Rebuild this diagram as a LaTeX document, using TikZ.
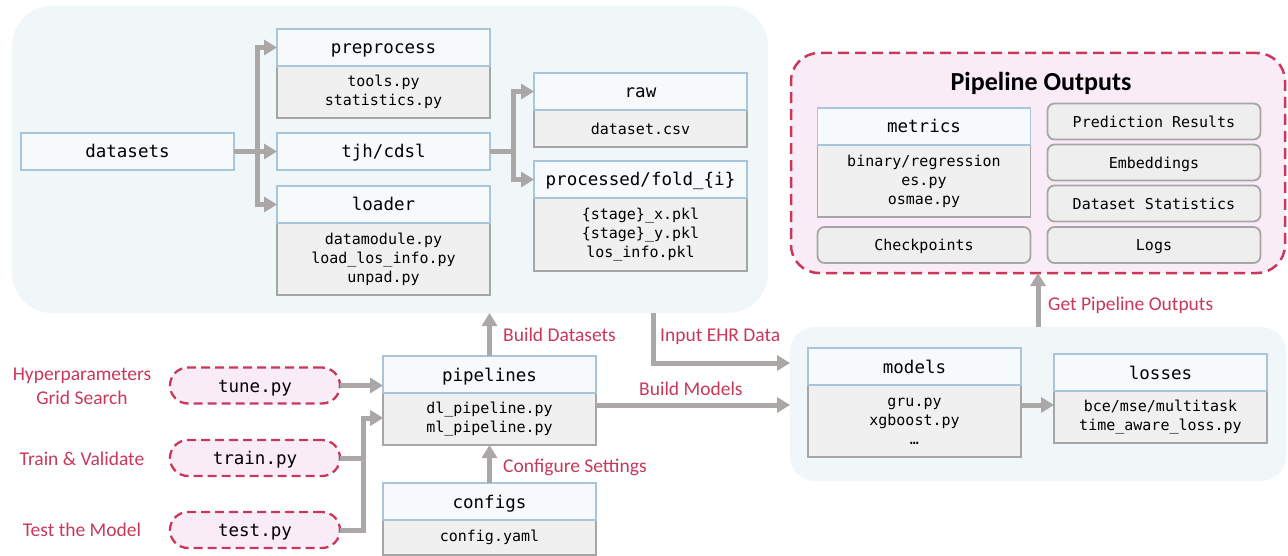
\documentclass[tikz,border=0pt]{standalone}
\usepackage{fontspec}
\setmainfont{Carlito}
\setmonofont{DejaVu Sans Mono}
\usetikzlibrary{arrows.meta}

\definecolor{panelbg}{HTML}{F1F6F9}
\definecolor{headfill}{HTML}{F6FAFD}
\definecolor{headline}{HTML}{AAC5DA}
\definecolor{bodyfill}{HTML}{F0F0F0}
\definecolor{bodyline}{HTML}{A6A6A6}
\definecolor{arrowgray}{HTML}{ABA7A7}
\definecolor{crimson}{HTML}{C9385B}
\definecolor{pinkfill}{HTML}{FAECF7}
\definecolor{outfill}{HTML}{EEEEEE}

\tikzset{
  panel/.style={fill=panelbg, draw=none, inner sep=0pt, outer sep=0pt, anchor=north west},
  headbox/.style={draw=headline, fill=headfill, line width=1.8pt, minimum width=213pt,
    minimum height=37pt, inner sep=0pt, outer sep=0pt, text height=14.5pt, text depth=1.5pt,
    font=\ttfamily\fontsize{17.5}{20}\selectfont},
  bodybox/.style={draw=bodyline, fill=bodyfill, line width=1.8pt, minimum width=213pt,
    inner sep=0pt, outer sep=0pt, align=center,
    font=\ttfamily\fontsize{15}{19}\selectfont},
  outbox/.style={draw=bodyline, fill=outfill, rounded corners=7pt, line width=1.8pt,
    minimum width=213pt, minimum height=36pt, inner sep=0pt, outer sep=0pt,
    text height=13pt, text depth=1pt, font=\ttfamily\fontsize{15}{18}\selectfont},
  pill/.style={draw=crimson, dash pattern=on 9pt off 5pt, line width=2.3pt, fill=pinkfill,
    rounded corners=18pt, minimum width=170pt, minimum height=36pt, inner sep=0pt,
    outer sep=0pt, text height=14.5pt, text depth=1.5pt,
    font=\ttfamily\fontsize{17.5}{20}\selectfont},
  lab/.style={text=crimson, inner sep=0pt, align=center,
    font=\fontsize{19.5}{24}\selectfont},
  arr/.style={draw=arrowgray, line width=5pt, -{Triangle[length=13pt,width=15pt]}},
}

% header + body file box: name, centre x, top y, header text, body height, body text
\newcommand\headbody[6]{%
  \node[bodybox, minimum height=#5, anchor=north] (#1-b) at (#2, #3+37) {#6};
  \node[headbox, anchor=north] (#1) at (#2, #3) {#4};
}

\begin{document}
\begin{tikzpicture}[x=1pt, y=-1pt]
\useasboundingbox (0,0) rectangle (1288,556);

% background panels
\node[panel, rounded corners=40pt, minimum width=756pt, minimum height=307pt] (datapanel) at (12,6) {};
\node[panel, rounded corners=25pt, minimum width=496pt, minimum height=154pt] (modelpanel) at (790,327) {};
\node[panel, fill=pinkfill, draw=crimson, line width=2.5pt, dash pattern=on 11pt off 6pt,
      rounded corners=28pt, minimum width=494pt, minimum height=220pt] (outpanel) at (791,53) {};

% dataset package
\node[headbox] (datasets) at (127.5,151.5) {datasets};
\headbody{preprocess}{383.5}{29}{preprocess}{52pt}{tools.py\\statistics.py}
\node[headbox] (tjh) at (383.5,151.5) {tjh/cdsl};
\headbody{loader}{383.5}{186}{loader}{72pt}{datamodule.py\\load\_los\_info.py\\unpad.py}
\headbody{raw}{640.5}{73}{raw}{37pt}{dataset.csv}
\headbody{processed}{640.5}{161}{processed/fold\_\{i\}}{73pt}{\{stage\}\_x.pkl\\\{stage\}\_y.pkl\\los\_info.pkl}

\coordinate (dsj) at (257,151.5);
\draw[arr] (datasets.east) -- (dsj) |- (preprocess.west);
\draw[arr] (datasets.east) -- (tjh.west);
\draw[arr] (datasets.east) -- (dsj) |- (loader.west);
\coordinate (tjj) at (513,151.5);
\draw[arr] (tjh.east) -- (tjj) |- (raw.west);
\draw[arr] (tjh.east) -- (tjj) |- (processed.west);

% outputs
\node[font=\bfseries\fontsize{26}{30}\selectfont, inner sep=0pt] (outtitle) at (1041,83) {Pipeline Outputs};
\headbody{metrics}{924}{108}{metrics}{72pt}{binary/regression\\es.py\\osmae.py}
\node[outbox] (ckpt) at (924,245) {Checkpoints};
\node[outbox] (pred) at (1154,121.5) {Prediction Results};
\node[outbox] (emb) at (1154,162.5) {Embeddings};
\node[outbox] (dstat) at (1154,203.5) {Dataset Statistics};
\node[outbox] (logs) at (1154,245) {Logs};

% models package
\headbody{models}{914.5}{348}{models}{72pt}{gru.py\\xgboost.py\\\dots}
\headbody{losses}{1160.5}{354}{losses}{52pt}{bce/mse/multitask\\time\_aware\_loss.py}
\draw[arr] ([yshift=16pt]models-b.east) -- ([yshift=16pt]models-b.east -| losses-b.west);

% pipelines and configs
\headbody{pipelines}{489.5}{356}{pipelines}{52pt}{dl\_pipeline.py\\ml\_pipeline.py}
\headbody{configs}{489.5}{483}{configs}{35pt}{config.yaml}

% entry scripts
\node[pill] (tune) at (255,385.5) {tune.py};
\node[pill] (train) at (255,458) {train.py};
\node[pill] (test) at (255,530) {test.py};
\node[lab] (ltune) at (82,386) {Hyperparameters\\Grid Search};
\node[lab] (ltrain) at (82,459) {Train \& Validate};
\node[lab] (ltest) at (82,530) {Test the Model};

\draw[arr] (tune.east) -- (tune.east -| pipelines.west);
\coordinate (ttj) at (363,418);
\draw[arr] (train.east) -| (ttj) -- (ttj -| pipelines-b.west);
\draw[arr] (test.east) -| (ttj) -- (ttj -| pipelines-b.west);

% flow between packages
\draw[arr] (pipelines.north) -- (pipelines.north |- datapanel.south);
\node[lab, anchor=west] (lbuildds) at (503,335) {Build Datasets};
\draw[arr] (configs.north) -- (pipelines-b.south);
\node[lab, anchor=west] (lconf) at (503,467) {Configure Settings};
\coordinate (ehr) at (653,363);
\draw[arr] (datapanel.south -| ehr) -- (ehr) -- (ehr -| modelpanel.west);
\node[lab, anchor=west] (lehr) at (660,337) {Input EHR Data};
\draw[arr] ([yshift=14pt]pipelines-b.east) -- ([yshift=14pt]pipelines-b.east -| modelpanel.west);
\node[lab, anchor=west] (lbm) at (639,389) {Build Models};
\coordinate (gpx) at (1038,300);
\draw[arr] (modelpanel.north -| gpx) -- (gpx |- outpanel.south);
\node[lab, anchor=west] (lgp) at (1048,305) {Get Pipeline Outputs};
\end{tikzpicture}
\end{document}
